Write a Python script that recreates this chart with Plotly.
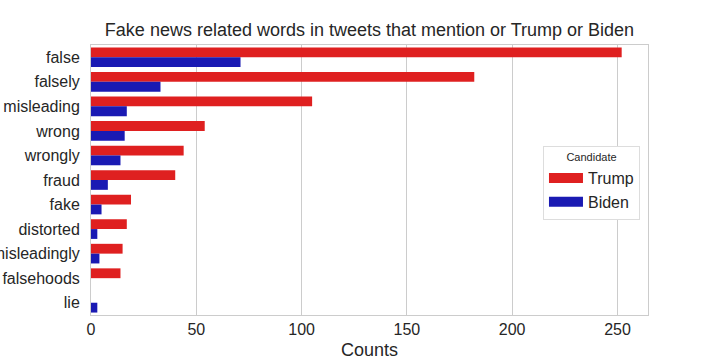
import plotly.graph_objects as go

words = ["false", "falsely", "misleading", "wrong", "wrongly", "fraud", "fake",
         "distorted", "misleadingly", "falsehoods", "lie"]
trump = [252, 182, 105, 54, 44, 40, 19, 17, 15, 14, 0]
biden = [71, 33, 17, 16, 14, 8, 5, 3, 4, 0, 3]
x_ticks = [0, 50, 100, 150, 200, 250]

RED = "#df2020"
BLUE = "#1a1ab3"

fig = go.Figure()
fig.add_trace(go.Bar(y=words, x=trump, orientation="h", name="Trump", showlegend=False,
                     marker=dict(color=RED, line=dict(width=0))))
fig.add_trace(go.Bar(y=words, x=biden, orientation="h", name="Biden", showlegend=False,
                     marker=dict(color=BLUE, line=dict(width=0))))
# legend entries drawn as wide patches
for nm, col in (("Trump", RED), ("Biden", BLUE)):
    fig.add_trace(go.Scatter(x=[None], y=[None], mode="lines", name=nm,
                             line=dict(color=col, width=10), showlegend=True))

fig.update_layout(
    width=720, height=360,
    barmode="group", bargap=0.2, bargroupgap=0,
    plot_bgcolor="white", paper_bgcolor="white",
    margin=dict(l=91, r=72, t=45, b=45),
    font=dict(family="Liberation Sans, Arial, sans-serif", color="#262626"),
    title=dict(text="Fake news related words in tweets that mention or Trump or Biden",
               x=0.5, xanchor="center", y=0.917, yanchor="middle",
               xref="paper", font=dict(size=18, color="#262626")),
    legend=dict(title=dict(text="Candidate", font=dict(size=11), side="top center"),
                x=0.9856, y=0.49, xanchor="right", yanchor="middle",
                bgcolor="white", bordercolor="#dddddd", borderwidth=1,
                font=dict(size=16), traceorder="normal", itemwidth=34),
    xaxis=dict(range=[0, 264.5], tickvals=x_ticks, showgrid=True, gridcolor="#cccccc",
               gridwidth=1, showline=True, linecolor="#cccccc", mirror=True,
               zeroline=False, ticks="", tickfont=dict(size=16), automargin=False,
               title=dict(text="Counts", font=dict(size=18), standoff=7)),
    yaxis=dict(categoryorder="array", categoryarray=words, autorange="reversed",
               showgrid=False, showline=True, linecolor="#cccccc", mirror=True,
               ticks="", tickfont=dict(size=16), ticklabelstandoff=7, automargin=False),
)
fig.write_html("out.html", config={"displayModeBar": False},
               post_script="document.body.style.margin='0';")
